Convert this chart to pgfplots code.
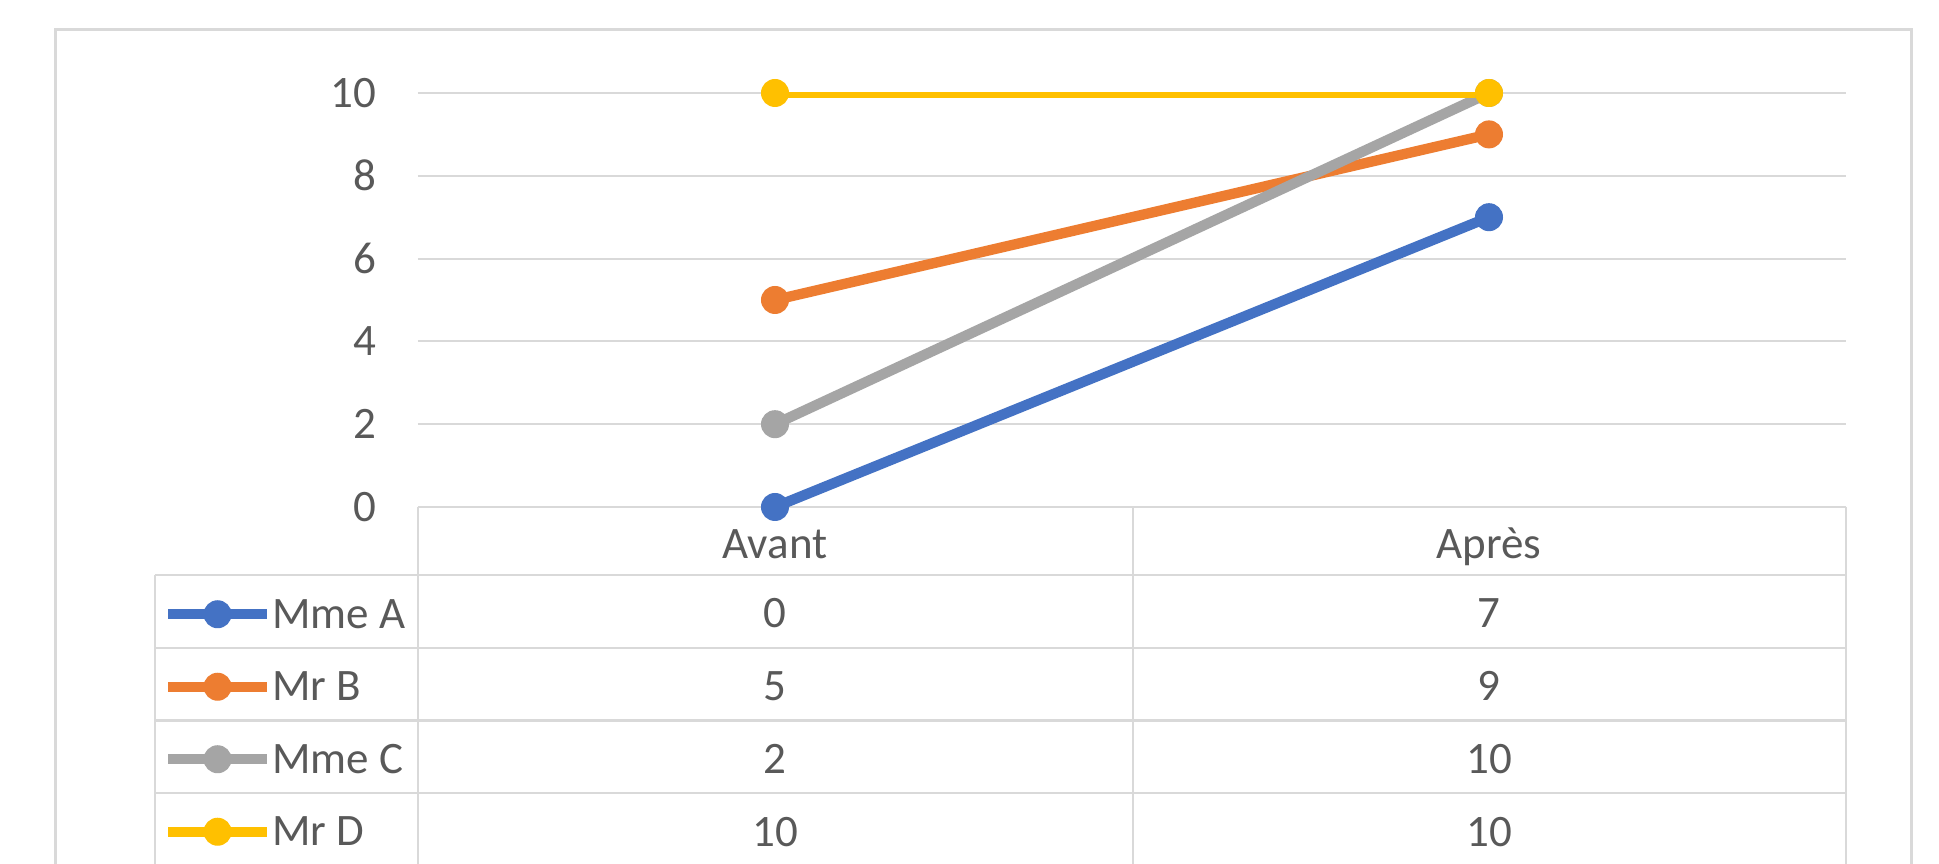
\documentclass[border=0pt]{standalone}
\usepackage{fontspec}
\setmainfont{Carlito}
\usepackage{pgfplots}
\pgfplotsset{compat=1.18}
\definecolor{cA}{HTML}{4472C4}
\definecolor{cB}{HTML}{ED7D31}
\definecolor{cC}{HTML}{A5A5A5}
\definecolor{cD}{HTML}{FFC000}
\definecolor{gridc}{HTML}{D9D9D9}
\definecolor{txt}{HTML}{595959}
\newcommand{\fs}{\fontsize{13.5}{15}\selectfont}
\begin{document}
\begin{tikzpicture}
\begin{scope}[x=0.3pt,y=-0.3pt,shift={(-125.4pt,152.1pt)}]
\fill[white] (0,0) rectangle (1939,864);
\draw[gridc, line width=0.9pt] (56,864) -- (56,30) -- (1911,30) -- (1911,864);
\draw[gridc, line width=0.65pt]
  (418,507) -- (418,864) (1133,507) -- (1133,864) (1846,507) -- (1846,864)
  (155,575) -- (155,864)
  (155,575) -- (1846,575) (155,648) -- (1846,648)
  (155,720.5) -- (1846,720.5) (155,793) -- (1846,793);
\begin{scope}[every node/.style={font=\fs, text=txt, anchor=base, inner sep=0pt}]
\node at (775,559) {Avant};
\node at (1489,559) {Après};
\node at (775,628) {0};   \node at (1489,628) {7};
\node at (775,701) {5};   \node at (1489,701) {9};
\node at (775,774) {2};   \node at (1489,774) {10};
\node at (775,847) {10};  \node at (1489,847) {10};
\end{scope}
\end{scope}
\begin{axis}[
  at={(0,0)}, anchor=south west,
  scale only axis, width=428.4pt, height=124.2pt,
  xmin=-0.5, xmax=1.5, ymin=0, ymax=10,
  axis line style={draw=none},
  xtick=\empty,
  ytick={0,2,4,6,8,10},
  tick style={draw=none},
  major tick length=0pt,
  ymajorgrids,
  grid style={gridc, line width=0.65pt},
  yticklabel style={font=\fs, text=txt, inner sep=0pt, anchor=east, xshift=-12.3pt},
  /pgf/number format/assume math mode=true,
  legend cell align=left,
  legend style={at={(-0.1786,-0.1715)}, anchor=north west, draw=none, fill=none,
    inner sep=0pt, outer sep=0pt, row sep=0pt, column sep=0pt,
    font=\fs, text=txt,
    nodes={inner sep=0pt, text height=15.15pt, text depth=6.6pt}},
  legend image code/.code={\draw[mark repeat=2,mark phase=2,#1] plot coordinates {(0pt,0pt)(14.85pt,0pt)(29.7pt,0pt)};},
  every axis plot/.append style={line width=3.1pt, mark=*, mark size=4pt},
]
\addplot[cA, mark options={fill=cA, draw=cA, line width=0.4pt}] coordinates {(0,0) (1,7)};
\addlegendentry{Mme A}
\addplot[cB, mark options={fill=cB, draw=cB, line width=0.4pt}] coordinates {(0,5) (1,9)};
\addlegendentry{Mr B}
\addplot[cC, mark options={fill=cC, draw=cC, line width=0.4pt}] coordinates {(0,2) (1,10)};
\addlegendentry{Mme C}
\addplot[cD, mark options={fill=cD, draw=cD, line width=0.4pt}] coordinates {(0,10) (1,10)};
\addlegendentry{Mr D}
\end{axis}
\pgfresetboundingbox
\begin{scope}[x=0.3pt,y=-0.3pt,shift={(-125.4pt,152.1pt)}]
\path[use as bounding box] (0,0) rectangle (1939,864);
\end{scope}
\end{tikzpicture}
\end{document}
